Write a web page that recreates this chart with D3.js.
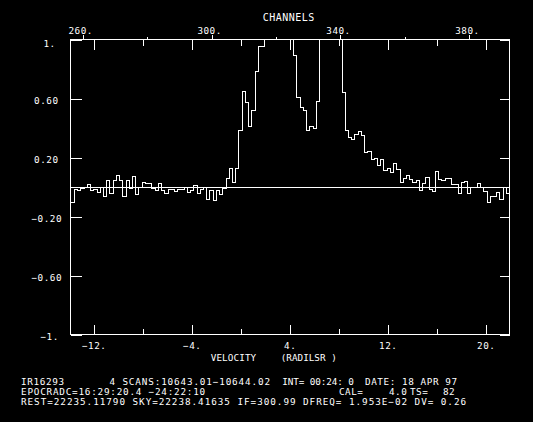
<!DOCTYPE html>
<html>
<head>
<meta charset="utf-8">
<script src="https://cdn.jsdelivr.net/npm/d3@7"></script>
<style>
  html, body { margin: 0; padding: 0; background: #000; }
  svg text { font-family: "DejaVu Sans Mono", "Liberation Mono", monospace; font-size: 9.3px; fill: #fff; letter-spacing: 0.5px; }
</style>
</head>
<body>
<div id="container"></div>
<script>
let w = 533;
let h = 422;

// spectrum, one value per channel, starting at channel 257
let firstChannel = 257;
let spectrum = [
  -0.104, -0.016, -0.023, -0.009, 0.000, 0.014, -0.027, -0.014, -0.036, 0.000,
  -0.063, 0.041, -0.043, 0.041, 0.081, 0.045, -0.063, 0.045, -0.007, 0.068,
  -0.050, 0.000, 0.032, 0.027, 0.023, -0.009, -0.023, 0.025, -0.027, -0.045,
  -0.014, -0.020, -0.032, -0.014, -0.020, -0.005, -0.036, -0.023, 0.009, -0.045,
  -0.020, -0.005, -0.084, -0.023, -0.090, -0.023, -0.054, -0.009, 0.059, 0.127,
  0.032, 0.127, 0.384, 0.646, 0.574, 0.409, 0.518, 0.782, 0.954, 0.954,
  1.15, 1.40, 1.70, 2.00, 2.20, 2.10, 1.80, 1.40, 1.10,
  0.893, 0.606, 0.538, 0.518, 0.382, 0.413, 0.395, 0.579,
  1.20, 1.90, 2.80, 3.20, 2.50, 1.60, 1.10,
  0.640, 0.384, 0.336, 0.321, 0.355, 0.375, 0.348, 0.233, 0.239, 0.185,
  0.194, 0.145, 0.187, 0.113, 0.124, 0.097, 0.158, 0.117, 0.031, 0.056,
  0.077, 0.049, 0.031, 0.043, -0.025, 0.022, 0.063, -0.014, -0.030, 0.104,
  0.049, 0.043, 0.056, 0.056, 0.020, 0.020, -0.041, 0.031, 0.038, -0.041,
  -0.005, 0.000, 0.022, -0.005, -0.032, -0.107, -0.062, -0.066, -0.039, -0.086,
  -0.005, -0.045
];

// axes
let chanTicks = [260, 300, 340, 380];
let chanMinor = [280, 320, 360];
let velTicks = [-12, -4, 4, 12, 20];
let velMinor = [-8, 0, 8, 16];
let yTicks = [1, 0.6, 0.2, -0.2, -0.6, -1];
let yLabels = ["1.", "0.60", "0.20", "\u22120.20", "\u22120.60", "\u22121."];
let velLabels = ["\u221212.", "\u22124.", "4.", "12.", "20."];

// header / footer text
let topTitle = "CHANNELS";
let xTitle = ["VELOCITY", "(RADILSR )"];
let footer = [
  ["IR16293", "4 SCANS:10643.01\u221210644.02", "INT= 00:24: 0", "DATE: 18 APR 97"],
  ["EPOCRADC=16:29:20.4 \u221224:22:10", "CAL=", "4.0", "TS=", "82"],
  ["REST=22235.11790 SKY=22238.41635 IF=300.99 DFREQ= 1.953E\u221202 DV= 0.26"]
];
// where each footer piece starts and how wide it is (null = natural width)
let footerX = [[21, 109.5, 282.3, 365], [21, 339, 389, 410, 443], [21]];
let footerW = [[43.5, 161, 72, 92.5], [184.7, null, null, null, null], [445.6]];

let plotLeft = 70.5, plotRight = 509.5, plotTop = 39.5, plotBottom = 334.5;

let viz = d3.select("#container")
  .append("svg")
    .attr("width", w)
    .attr("height", h)
    .style("background-color", "black")
    .style("display", "block");

let xChan = d3.scaleLinear().domain([256.245, 392.47]).range([plotLeft, plotRight]);
let xVel = d3.scaleLinear().domain([-13.894, 21.943]).range([plotLeft, plotRight]);
let yScale = d3.scaleLinear().domain([-1, 1]).range([plotBottom, plotTop]);

viz.append("clipPath").attr("id", "plotclip")
  .append("rect")
    .attr("x", plotLeft).attr("y", plotTop)
    .attr("width", plotRight - plotLeft).attr("height", plotBottom - plotTop);

// histogram trace
let pts = spectrum.map((v, i) => [firstChannel + i - 0.5, v]);
pts.push([firstChannel + spectrum.length - 0.5, spectrum[spectrum.length - 1]]);
let stepLine = d3.line()
  .x(d => xChan(d[0]))
  .y(d => yScale(d[1]))
  .curve(d3.curveStepAfter);

viz.append("path")
  .attr("d", stepLine(pts))
  .attr("clip-path", "url(#plotclip)")
  .attr("fill", "none")
  .attr("stroke", "white")
  .attr("stroke-width", 1)
  .attr("shape-rendering", "crispEdges");

// zero line
viz.append("line")
  .attr("x1", plotLeft).attr("x2", plotRight)
  .attr("y1", yScale(0)).attr("y2", yScale(0))
  .attr("stroke", "white")
  .attr("shape-rendering", "crispEdges");

// frame
viz.append("rect")
  .attr("x", plotLeft).attr("y", plotTop)
  .attr("width", plotRight - plotLeft).attr("height", plotBottom - plotTop)
  .attr("fill", "none").attr("stroke", "white")
  .attr("shape-rendering", "crispEdges");

function cleanAxis(g){
  g.select(".domain").remove();
  g.selectAll("line").attr("stroke", "white").attr("shape-rendering", "crispEdges");
  g.selectAll("text").attr("fill", "white").attr("font-family", null).attr("font-size", null);
}

// channel axis on top (ticks outward)
let chanAxis = viz.append("g").attr("transform", "translate(0," + plotTop + ")")
  .call(d3.axisTop(xChan).tickValues(chanTicks).tickSize(5).tickFormat(d => d + "."));
cleanAxis(chanAxis);
chanAxis.selectAll("text").attr("y", -5.5).attr("dy", 0).attr("dx", -2.4);
viz.append("g").attr("transform", "translate(0," + plotTop + ")")
  .call(d3.axisTop(xChan).tickValues(chanMinor).tickSize(2.5).tickFormat(""))
  .call(cleanAxis);

// velocity ticks on top edge (inward)
viz.append("g").attr("transform", "translate(0," + plotTop + ")")
  .call(d3.axisBottom(xVel).tickValues(velTicks).tickSize(10).tickFormat(""))
  .call(cleanAxis);
viz.append("g").attr("transform", "translate(0," + plotTop + ")")
  .call(d3.axisBottom(xVel).tickValues(velMinor).tickSize(6).tickFormat(""))
  .call(cleanAxis);

// velocity axis at bottom (inward ticks, labels below)
let velAxis = viz.append("g").attr("transform", "translate(0," + plotBottom + ")")
  .call(d3.axisTop(xVel).tickValues(velTicks).tickSize(10).tickFormat((d, i) => velLabels[i]));
cleanAxis(velAxis);
velAxis.selectAll("text").attr("y", 14.5).attr("dy", 0);
viz.append("g").attr("transform", "translate(0," + plotBottom + ")")
  .call(d3.axisTop(xVel).tickValues(velMinor).tickSize(6).tickFormat(""))
  .call(cleanAxis);

// y axis, ticks inward on both sides
let yAxisL = viz.append("g").attr("transform", "translate(" + plotLeft + ",0)")
  .call(d3.axisRight(yScale).tickValues(yTicks).tickSize(11).tickFormat((d, i) => yLabels[i]));
cleanAxis(yAxisL);
yAxisL.selectAll("text")
  .attr("text-anchor", d => (Math.abs(d) === 1 ? "middle" : "end"))
  .attr("x", d => (Math.abs(d) === 1 ? 49.6 : (d < 0 ? 62 : 58.5)) - plotLeft)
  .attr("dy", 0)
  .attr("transform", d => "translate(0," + (d === 1 ? 7.4 : 5.2) + ")");
viz.append("g").attr("transform", "translate(" + plotRight + ",0)")
  .call(d3.axisLeft(yScale).tickValues(yTicks).tickSize(10).tickFormat(""))
  .call(cleanAxis);

// titles
viz.append("text")
  .attr("x", 288.8).attr("y", 21)
  .attr("text-anchor", "middle")
  .style("font-size", "10px")
  .text(topTitle);
viz.append("text")
  .attr("x", 210.7).attr("y", 360.5)
  .attr("textLength", 46).attr("lengthAdjust", "spacing")
  .text(xTitle[0]);
viz.append("text")
  .attr("x", 280.7).attr("y", 360.5)
  .attr("textLength", 56.6).attr("lengthAdjust", "spacing")
  .attr("xml:space", "preserve")
  .text(xTitle[1]);

// footer
let footerY = [384.5, 394.6, 404.8];
footer.forEach((line, li) => {
  line.forEach((piece, pi) => {
    viz.append("text")
      .attr("x", footerX[li][pi])
      .attr("y", footerY[li])
      .attr("textLength", footerW[li][pi])
      .attr("lengthAdjust", "spacing")
      .attr("xml:space", "preserve")
      .text(piece);
  });
});
</script>
</body>
</html>
